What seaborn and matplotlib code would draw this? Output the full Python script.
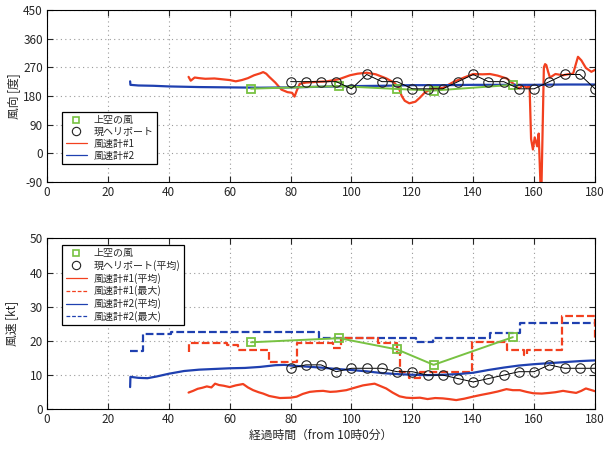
import matplotlib
matplotlib.use("Agg")
import matplotlib.pyplot as plt
from matplotlib.lines import Line2D
import seaborn as sns
import pandas as pd

# ---- wind direction (deg) ----
upper_t = [67, 96, 115, 127, 153]
upper_dir = [203, 211, 202, 197, 215]

heli_t = [80, 85, 90, 95, 100, 105, 110, 115, 120, 125, 130,
          135, 140, 145, 150, 155, 160, 165, 170, 175, 180]
heli_dir = [225, 225, 225, 225, 202.5, 247.5, 225, 225, 202.5, 202.5, 202.5,
            225, 247.5, 225, 225, 202.5, 202.5, 225, 247.5, 247.5, 202.5]

an1_dir_t = [46.5, 47.2, 48.5, 50, 52, 55, 58, 60, 62, 64, 66, 68, 70, 71, 72,
             73, 75, 77, 79, 80.5, 81.3, 82, 83, 85, 88, 92, 96, 99.5, 102, 105,
             108, 111.5, 114, 115.5, 116.5, 117.5, 119, 121, 122.5, 124, 126.5,
             130, 133.5, 137, 140, 143, 145.5, 148, 151, 153, 155, 156.5, 157.5,
             158.5, 159, 159.6, 160.2, 161, 161.5, 162.3, 163.2, 163.6, 164,
             164.6, 165.2, 167, 169.5, 171, 172.8, 174.4, 175.5, 177, 178.8, 180]
an1_dir = [240, 228, 238, 236, 234, 235, 232, 230, 226, 230, 236, 245, 251, 255, 250,
           240, 222, 200, 192, 190, 178, 196, 218, 222, 224, 226, 233, 245, 250, 253,
           248, 235, 222, 207, 180, 165, 157, 162, 175, 190, 204,
           205, 224, 238, 249, 248, 249, 244, 235, 220, 204, 214, 206,
           212, 45, 12, 50, 22, 62, -160, 270, 280, 277,
           256, 238, 249, 245, 248, 250, 303, 292, 268, 256, 262]

an2_dir_t = [27.3, 27.4, 30, 35, 40, 50, 60, 70, 80, 90, 100, 110, 120, 130,
             140, 150, 160, 170, 180]
an2_dir = [226, 215, 213, 212, 210, 208, 207, 206, 207, 209, 211, 212, 214, 214,
           215, 215, 215, 216, 216]

# ---- wind speed (kt) ----
upper_spd = [19.6, 20.8, 17.5, 13.0, 21.1]
heli_spd = [12, 13, 13, 11, 12, 12, 12, 11, 11, 10, 10,
            9, 8, 9, 10, 11, 11, 13, 12, 12, 12]

an1_avg_t = [46.5, 48, 49.5, 51, 52.5, 54, 55.2, 56.5, 58, 60, 62, 64.4, 66, 67.7,
             69.5, 71, 73, 76.5, 80, 82, 84, 86.3, 88.5, 90.7, 93, 95, 98.3, 101,
             103.8, 106, 107.6, 109.5, 111.4, 113.5, 115.8, 118, 120, 122.5, 125,
             127.5, 130, 132, 134.4, 137, 139.9, 142.5, 145.4, 148, 150.9, 153,
             155.3, 157.5, 159.7, 162.5, 165, 167, 169.5, 171.5, 173.8, 175.5, 177,
             178.5, 180]
an1_avg = [4.9, 5.4, 6.0, 6.3, 6.7, 6.4, 7.5, 7.1, 6.9, 6.5, 7.0, 7.4, 6.4, 5.6,
           5.0, 4.6, 3.9, 3.3, 3.4, 3.7, 4.5, 5.1, 5.3, 5.4, 5.1, 5.2, 5.6, 6.3,
           7.0, 7.3, 7.5, 6.8, 6.1, 4.9, 3.8, 3.4, 3.3, 3.4, 3.0,
           3.3, 3.2, 3.0, 2.7, 3.1, 3.7, 4.2, 4.7, 5.2, 5.9, 5.6,
           5.6, 5.1, 4.7, 4.6, 4.8, 5.0, 5.4, 5.1, 4.8, 5.4, 6.1,
           5.7, 5.3]

an1_max_t = [46.5, 46.6, 59, 62.8, 73, 82, 94, 96.7, 108.7, 114.8, 116, 119,
             122.4, 139.5, 151.2, 156.8, 157.6, 169.3, 179.9, 180]
an1_max = [16.8, 19.3, 18.8, 17.3, 13.9, 19.3, 18.0, 20.8, 19.3, 16.4, 11.0, 9.1,
           11.0, 19.7, 17.3, 15.9, 17.3, 27.2, 20.5, 20.5]

an2_avg_t = [27.3, 27.4, 30, 33, 36, 40, 45, 50, 55, 60, 65, 70, 75, 78, 80, 85,
             90, 95, 100, 105, 110, 115, 120, 125, 130, 135, 140, 145, 150, 155,
             160, 165, 170, 175, 180]
an2_avg = [6.5, 9.5, 9.2, 9.1, 9.6, 10.4, 11.2, 11.6, 11.8, 12.0, 12.1, 12.4, 12.9,
           13.0, 12.8, 12.5, 12.2, 11.8, 11.5, 11.1, 10.6, 10.3, 10.1, 10.0, 10.1,
           10.3, 10.7, 11.5, 12.2, 12.8, 13.2, 13.5, 13.8, 14.1, 14.3]

an2_max_t = [27.3, 31.4, 40.6, 89.3, 121.3, 126.8, 145.4, 155.3, 180]
an2_max = [17.0, 21.9, 22.7, 20.8, 19.7, 20.8, 22.2, 25.1, 25.1]

dir_ticks = [-90, 0, 90, 180, 270, 360, 450]
spd_ticks = [0, 10, 20, 30, 40, 50]
x_ticks = [0, 20, 40, 60, 80, 100, 120, 140, 160, 180]

RED = "#f2401f"
BLUE = "#1f40b0"
GREEN = "#78c242"
DASH = (3.5, 1.4)

sns.set_style("ticks")
plt.rcParams["font.family"] = ["Noto Sans CJK JP", "DejaVu Sans"]
plt.rcParams["axes.unicode_minus"] = False

fig = plt.figure(figsize=(6.05, 4.5), dpi=100)
ax1 = fig.add_axes([0.0777, 0.5956, 0.9058, 0.3822])
ax2 = fig.add_axes([0.0777, 0.0904, 0.9058, 0.38])


def line(ax, t, v, **kw):
    df = pd.DataFrame({"t": t, "v": v})
    sns.lineplot(data=df, x="t", y="v", ax=ax, estimator=None, sort=False,
                 legend=False, **kw)


sq_kw = dict(marker="s", markersize=5.2, markerfacecolor="none",
             markeredgecolor=GREEN, markeredgewidth=1.3)
ci_kw = dict(marker="o", markersize=6.8, markerfacecolor="none",
             markeredgecolor="#222222", markeredgewidth=0.8)

# top: direction
line(ax1, an1_dir_t, an1_dir, color=RED, linewidth=1.6)
line(ax1, an2_dir_t, an2_dir, color=BLUE, linewidth=1.6)
line(ax1, upper_t, upper_dir, color=GREEN, linewidth=1.4, **sq_kw)
line(ax1, heli_t, heli_dir, color="black", linewidth=0.7, **ci_kw)

# bottom: speed
line(ax2, an2_max_t, an2_max, color=BLUE, linewidth=1.6, dashes=DASH,
     drawstyle="steps-post")
line(ax2, an1_max_t, an1_max, color=RED, linewidth=1.6, dashes=DASH,
     drawstyle="steps-post")
line(ax2, an1_avg_t, an1_avg, color=RED, linewidth=1.6)
line(ax2, an2_avg_t, an2_avg, color=BLUE, linewidth=1.6)
line(ax2, upper_t, upper_spd, color=GREEN, linewidth=1.4, **sq_kw)
line(ax2, heli_t, heli_spd, color="black", linewidth=0.7, **ci_kw)

for ax in (ax1, ax2):
    ax.set_xlim(0, 180)
    ax.set_xticks(x_ticks)
    ax.grid(True, linestyle=(0, (1, 3)), color="#9a9a9a", linewidth=0.8)
    ax.tick_params(direction="in", length=4, width=0.8, labelsize=8.5,
                   top=True, right=True, pad=3)
    for s in ax.spines.values():
        s.set_visible(True)
        s.set_color("black")
        s.set_linewidth(0.8)

ax1.set_ylim(-90, 450)
ax1.set_yticks(dir_ticks)
ax1.set_xlabel("")
ax1.set_ylabel("風向 [度]", fontsize=8.5, labelpad=2)

ax2.set_ylim(0, 50)
ax2.set_yticks(spd_ticks)
ax2.set_xlabel("経過時間（from 10時0分）", fontsize=8.5, labelpad=2)
ax2.set_ylabel("風速 [kt]", fontsize=8.5, labelpad=8)

leg_sq = dict(marker="s", markersize=5, markerfacecolor="none", markeredgecolor=GREEN,
              markeredgewidth=1.2, linestyle="none")
leg_ci = dict(marker="o", markersize=6, markerfacecolor="none", markeredgecolor="#222222",
              markeredgewidth=0.8, linestyle="none")
leg_kw = dict(fontsize=7.2, frameon=True, fancybox=False, edgecolor="black",
              framealpha=1, borderaxespad=0, handlelength=2.1, labelspacing=0.18,
              borderpad=0.35, handletextpad=0.7)

h1 = [Line2D([], [], **leg_sq), Line2D([], [], **leg_ci),
      Line2D([], [], color=RED, linewidth=0.9),
      Line2D([], [], color=BLUE, linewidth=0.9)]
leg1 = ax1.legend(h1, ["上空の風", "現ヘリポート", "風速計#1", "風速計#2"],
                  loc="lower left", bbox_to_anchor=(0.028, 0.105), **leg_kw)
leg1.get_frame().set_linewidth(0.9)

h2 = [Line2D([], [], **leg_sq), Line2D([], [], **leg_ci),
      Line2D([], [], color=RED, linewidth=0.9),
      Line2D([], [], color=RED, linewidth=0.9, dashes=(3, 1.5)),
      Line2D([], [], color=BLUE, linewidth=0.9),
      Line2D([], [], color=BLUE, linewidth=0.9, dashes=(3, 1.5))]
leg2 = ax2.legend(h2, ["上空の風", "現ヘリポート(平均)", "風速計#1(平均)", "風速計#1(最大)",
                       "風速計#2(平均)", "風速計#2(最大)"],
                  loc="upper left", bbox_to_anchor=(0.028, 0.962), **leg_kw)
leg2.get_frame().set_linewidth(0.9)

fig.savefig("out.png", dpi=100, facecolor="white")
